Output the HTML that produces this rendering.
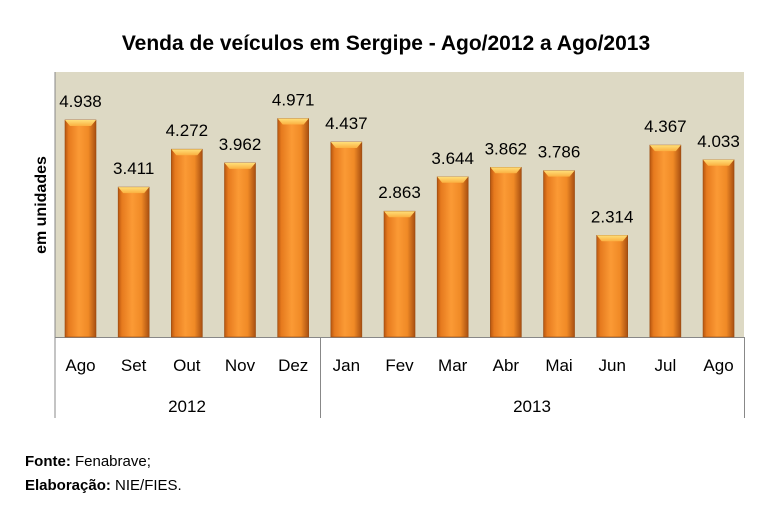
<!DOCTYPE html>
<html><head><meta charset="utf-8"><style>
body{margin:0;background:#fff;width:767px;height:508px;overflow:hidden;font-family:"Liberation Sans",sans-serif}
</style></head><body>
<svg width="767" height="508" xmlns="http://www.w3.org/2000/svg" font-family="Liberation Sans, sans-serif">
<defs>
<linearGradient id="g" x1="0" x2="1" y1="0" y2="0">
<stop offset="0" stop-color="#b8560f"/><stop offset="0.12" stop-color="#e67a1e"/>
<stop offset="0.45" stop-color="#fb9a35"/><stop offset="0.75" stop-color="#f08a26"/>
<stop offset="1" stop-color="#a84f10"/></linearGradient>
<linearGradient id="t" x1="0" x2="0" y1="0" y2="1">
<stop offset="0" stop-color="#ffe07a"/><stop offset="1" stop-color="#fbb040"/></linearGradient>
</defs>
<text x="386" y="50" text-anchor="middle" font-size="21" font-weight="bold" fill="#000">Venda de veículos em Sergipe - Ago/2012 a Ago/2013</text>
<rect x="55" y="72" width="689" height="265" fill="#ddd9c4"/>
<line x1="55" y1="72" x2="55" y2="418" stroke="#888" stroke-width="1"/>
<line x1="55" y1="337.5" x2="744" y2="337.5" stroke="#888"/>
<line x1="320.5" y1="337" x2="320.5" y2="418" stroke="#888"/>
<line x1="744.5" y1="337" x2="744.5" y2="418" stroke="#888"/>
<text transform="translate(46,205) rotate(-90)" text-anchor="middle" font-size="16" font-weight="bold">em unidades</text>
<g stroke="#9a4a10" stroke-width="0.6" fill="url(#g)">
<rect x="65" y="120" width="31" height="217"/>
<rect x="118.17" y="187.1" width="31" height="149.9"/>
<rect x="171.34" y="149.2" width="31" height="187.8"/>
<rect x="224.51" y="162.9" width="31" height="174.1"/>
<rect x="277.68" y="118.5" width="31" height="218.5"/>
<rect x="330.85" y="142" width="31" height="195"/>
<rect x="384.02" y="211.2" width="31" height="125.8"/>
<rect x="437.19" y="176.8" width="31" height="160.2"/>
<rect x="490.36" y="167.3" width="31" height="169.7"/>
<rect x="543.53" y="170.6" width="31" height="166.4"/>
<rect x="596.7" y="235.3" width="31" height="101.7"/>
<rect x="649.87" y="145.1" width="31" height="191.9"/>
<rect x="703.04" y="159.8" width="31" height="177.2"/>
</g>
<g fill="url(#t)">
<polygon points="65,120 96,120 91,126 70,126"/>
<polygon points="118.17,187.1 149.17,187.1 144.17,193.1 123.17,193.1"/>
<polygon points="171.34,149.2 202.34,149.2 197.34,155.2 176.34,155.2"/>
<polygon points="224.51,162.9 255.51,162.9 250.51,168.9 229.51,168.9"/>
<polygon points="277.68,118.5 308.68,118.5 303.68,124.5 282.68,124.5"/>
<polygon points="330.85,142 361.85,142 356.85,148 335.85,148"/>
<polygon points="384.02,211.2 415.02,211.2 410.02,217.2 389.02,217.2"/>
<polygon points="437.19,176.8 468.19,176.8 463.19,182.8 442.19,182.8"/>
<polygon points="490.36,167.3 521.36,167.3 516.36,173.3 495.36,173.3"/>
<polygon points="543.53,170.6 574.53,170.6 569.53,176.6 548.53,176.6"/>
<polygon points="596.7,235.3 627.7,235.3 622.7,241.3 601.7,241.3"/>
<polygon points="649.87,145.1 680.87,145.1 675.87,151.1 654.87,151.1"/>
<polygon points="703.04,159.8 734.04,159.8 729.04,165.8 708.04,165.8"/>
</g>
<g font-size="17" text-anchor="middle" fill="#000">
<text x="80.5" y="107">4.938</text>
<text x="133.67" y="174.1">3.411</text>
<text x="186.84" y="136.2">4.272</text>
<text x="240.01" y="149.9">3.962</text>
<text x="293.18" y="105.5">4.971</text>
<text x="346.35" y="129">4.437</text>
<text x="399.52" y="198.2">2.863</text>
<text x="452.69" y="163.8">3.644</text>
<text x="505.86" y="154.3">3.862</text>
<text x="559.03" y="157.6">3.786</text>
<text x="612.2" y="222.3">2.314</text>
<text x="665.37" y="132.1">4.367</text>
<text x="718.54" y="146.8">4.033</text>
<text x="80.5" y="371">Ago</text>
<text x="133.67" y="371">Set</text>
<text x="186.84" y="371">Out</text>
<text x="240.01" y="371">Nov</text>
<text x="293.18" y="371">Dez</text>
<text x="346.35" y="371">Jan</text>
<text x="399.52" y="371">Fev</text>
<text x="452.69" y="371">Mar</text>
<text x="505.86" y="371">Abr</text>
<text x="559.03" y="371">Mai</text>
<text x="612.2" y="371">Jun</text>
<text x="665.37" y="371">Jul</text>
<text x="718.54" y="371">Ago</text>
<text x="187" y="412">2012</text>
<text x="532" y="412">2013</text>
</g>
<text x="25" y="466" font-size="15"><tspan font-weight="bold">Fonte:</tspan> Fenabrave;</text>
<text x="25" y="490" font-size="15"><tspan font-weight="bold">Elaboração:</tspan> NIE/FIES.</text>
</svg>
</body></html>
